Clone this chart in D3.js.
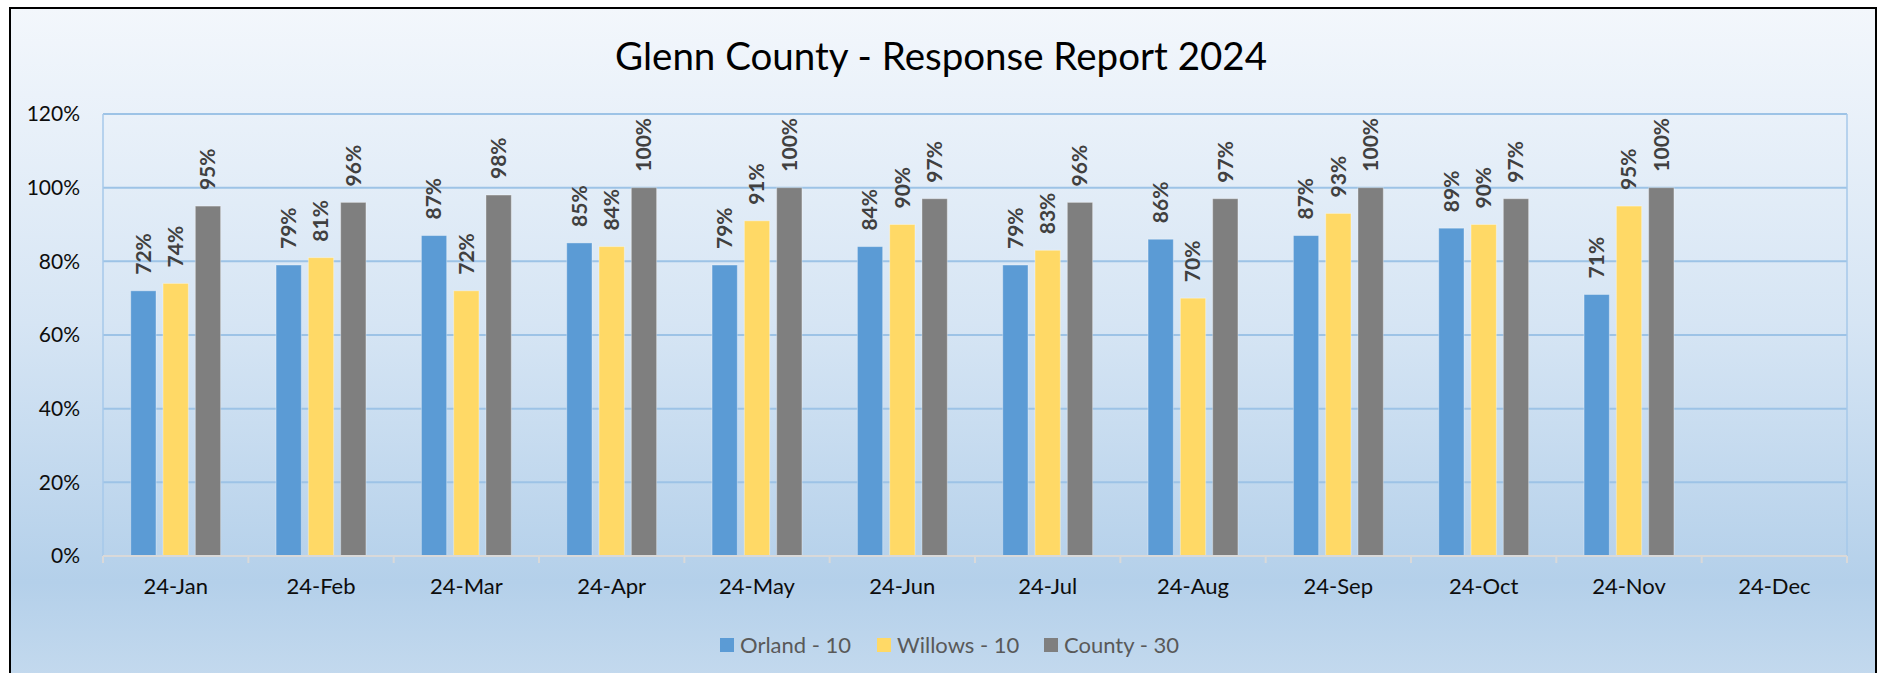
<!DOCTYPE html>
<html>
<head>
<meta charset="utf-8">
<script src="https://cdn.jsdelivr.net/npm/d3@7"></script>
<style>
  body { margin: 0; background: #fff; }
  svg { display: block; font-family: Lato, 'Open Sans', sans-serif; }
</style>
</head>
<body>
<div id="chart"></div>
<script>
// chart data
const months = ['24-Jan', '24-Feb', '24-Mar', '24-Apr', '24-May', '24-Jun',
  '24-Jul', '24-Aug', '24-Sep', '24-Oct', '24-Nov', '24-Dec'];
const seriesNames = ['Orland - 10', 'Willows - 10', 'County - 30'];
const orland = [0.72, 0.79, 0.87, 0.85, 0.79, 0.84, 0.79, 0.86, 0.87, 0.89, 0.71, null];
const willows = [0.74, 0.81, 0.72, 0.84, 0.91, 0.90, 0.83, 0.70, 0.93, 0.90, 0.95, null];
const county = [0.95, 0.96, 0.98, 1.00, 1.00, 0.97, 0.96, 0.97, 1.00, 0.97, 1.00, null];
const yTicks = [0, 0.2, 0.4, 0.6, 0.8, 1.0, 1.2];
const colors = ['#5B9BD5', '#FFD966', '#7F7F7F'];

const W = 1881, H = 673;
const margin = {top: 114, right: 34, bottom: 117, left: 103};
const width = W - margin.left - margin.right;
const height = H - margin.top - margin.bottom;

const svg = d3.select('#chart').append('svg')
  .attr('width', W)
  .attr('height', H);

// background gradient of the chart area
let grad = svg.append('defs').append('linearGradient')
  .attr('id', 'bg')
  .attr('x1', 0).attr('y1', 0).attr('x2', 0).attr('y2', 1);
grad.append('stop').attr('offset', '0%').attr('stop-color', '#F3F7FC');
grad.append('stop').attr('offset', '45%').attr('stop-color', '#D6E5F4');
grad.append('stop').attr('offset', '82%').attr('stop-color', '#B4D0EA');
grad.append('stop').attr('offset', '100%').attr('stop-color', '#C8DCEF');

svg.append('rect')
  .attr('x', 10).attr('y', 8)
  .attr('width', 1866).attr('height', 700)
  .attr('fill', 'url(#bg)')
  .attr('stroke', '#000')
  .attr('stroke-width', 2);

svg.append('text')
  .attr('x', 941).attr('y', 70)
  .attr('text-anchor', 'middle')
  .attr('font-size', 38.5)
  .attr('fill', '#000')
  .text('Glenn County - Response Report 2024');

const g = svg.append('g')
  .attr('transform', 'translate(' + margin.left + ',' + margin.top + ')');

let x = d3.scaleBand().domain(months).range([0, width]).padding(0);
let x1 = d3.scaleBand().domain(seriesNames).range([0, x.bandwidth()])
  .paddingInner(0.217).paddingOuter(0.858);
let y = d3.scaleLinear().domain([0, 1.2]).range([height, 0]);

// gridlines
g.append('g')
  .selectAll('line')
  .data(yTicks.filter(d => d > 0))
  .enter().append('line')
  .attr('x1', 0).attr('x2', width)
  .attr('y1', d => y(d)).attr('y2', d => y(d))
  .attr('stroke', '#9DC3E6')
  .attr('stroke-width', 2);

// plot area sides
g.append('line').attr('x1', 0).attr('x2', 0).attr('y1', 0).attr('y2', height)
  .attr('stroke', '#A6C9EA').attr('stroke-width', 1.5);
g.append('line').attr('x1', width).attr('x2', width).attr('y1', 0).attr('y2', height)
  .attr('stroke', '#A6C9EA').attr('stroke-width', 1.5);

// y axis labels
g.append('g')
  .selectAll('text')
  .data(yTicks)
  .enter().append('text')
  .attr('x', -23)
  .attr('y', d => y(d))
  .attr('dy', '0.35em')
  .attr('text-anchor', 'end')
  .attr('font-size', 21)
  .attr('fill', '#0D0D0D')
  .text(d => d3.format('.0%')(d));

// bars
const series = [orland, willows, county];
const rows = [];
series.forEach((vals, si) => {
  vals.forEach((v, mi) => {
    if (v != null) rows.push({month: months[mi], name: seriesNames[si], value: v, si: si});
  });
});

g.selectAll('.bar')
  .data(rows)
  .enter().append('rect')
  .attr('class', 'bar')
  .attr('x', d => x(d.month) + x1(d.name))
  .attr('width', x1.bandwidth())
  .attr('y', d => y(d.value))
  .attr('height', d => height - y(d.value))
  .attr('fill', d => colors[d.si])
  .attr('stroke', 'rgba(255,255,255,0.35)')
  .attr('stroke-width', 1);

g.selectAll('.lbl')
  .data(rows)
  .enter().append('text')
  .attr('class', 'lbl')
  .attr('transform', d => 'translate(' + (x(d.month) + x1(d.name) + x1.bandwidth() / 2) + ',' + (y(d.value) - 16) + ') rotate(-90)')
  .attr('dy', '0.35em')
  .attr('font-size', 21)
  .attr('font-weight', 'bold')
  .attr('fill', '#404040')
  .text(d => d3.format('.0%')(d.value));

// x axis
const xAxis = g.append('g').attr('transform', 'translate(0,' + height + ')');
xAxis.append('line').attr('x1', 0).attr('x2', width)
  .attr('stroke', '#D9D9D9').attr('stroke-width', 2);
xAxis.selectAll('.tick')
  .data(months.concat(['end']))
  .enter().append('line')
  .attr('x1', (d, i) => i * x.step()).attr('x2', (d, i) => i * x.step())
  .attr('y1', 0).attr('y2', 7)
  .attr('stroke', '#D9D9D9').attr('stroke-width', 2);
xAxis.selectAll('text')
  .data(months)
  .enter().append('text')
  .attr('x', d => x(d) + x.bandwidth() / 2)
  .attr('y', 38)
  .attr('text-anchor', 'middle')
  .attr('font-size', 22)
  .attr('fill', '#0D0D0D')
  .text(d => d);

// legend
const legendX = [720, 877, 1044];
const legend = svg.append('g');
seriesNames.forEach((name, i) => {
  legend.append('rect')
    .attr('x', legendX[i]).attr('y', 638)
    .attr('width', 14).attr('height', 14)
    .attr('fill', colors[i]);
  legend.append('text')
    .attr('x', legendX[i] + 20).attr('y', 653)
    .attr('font-size', 22)
    .attr('fill', '#595959')
    .text(name);
});
</script>
</body>
</html>
